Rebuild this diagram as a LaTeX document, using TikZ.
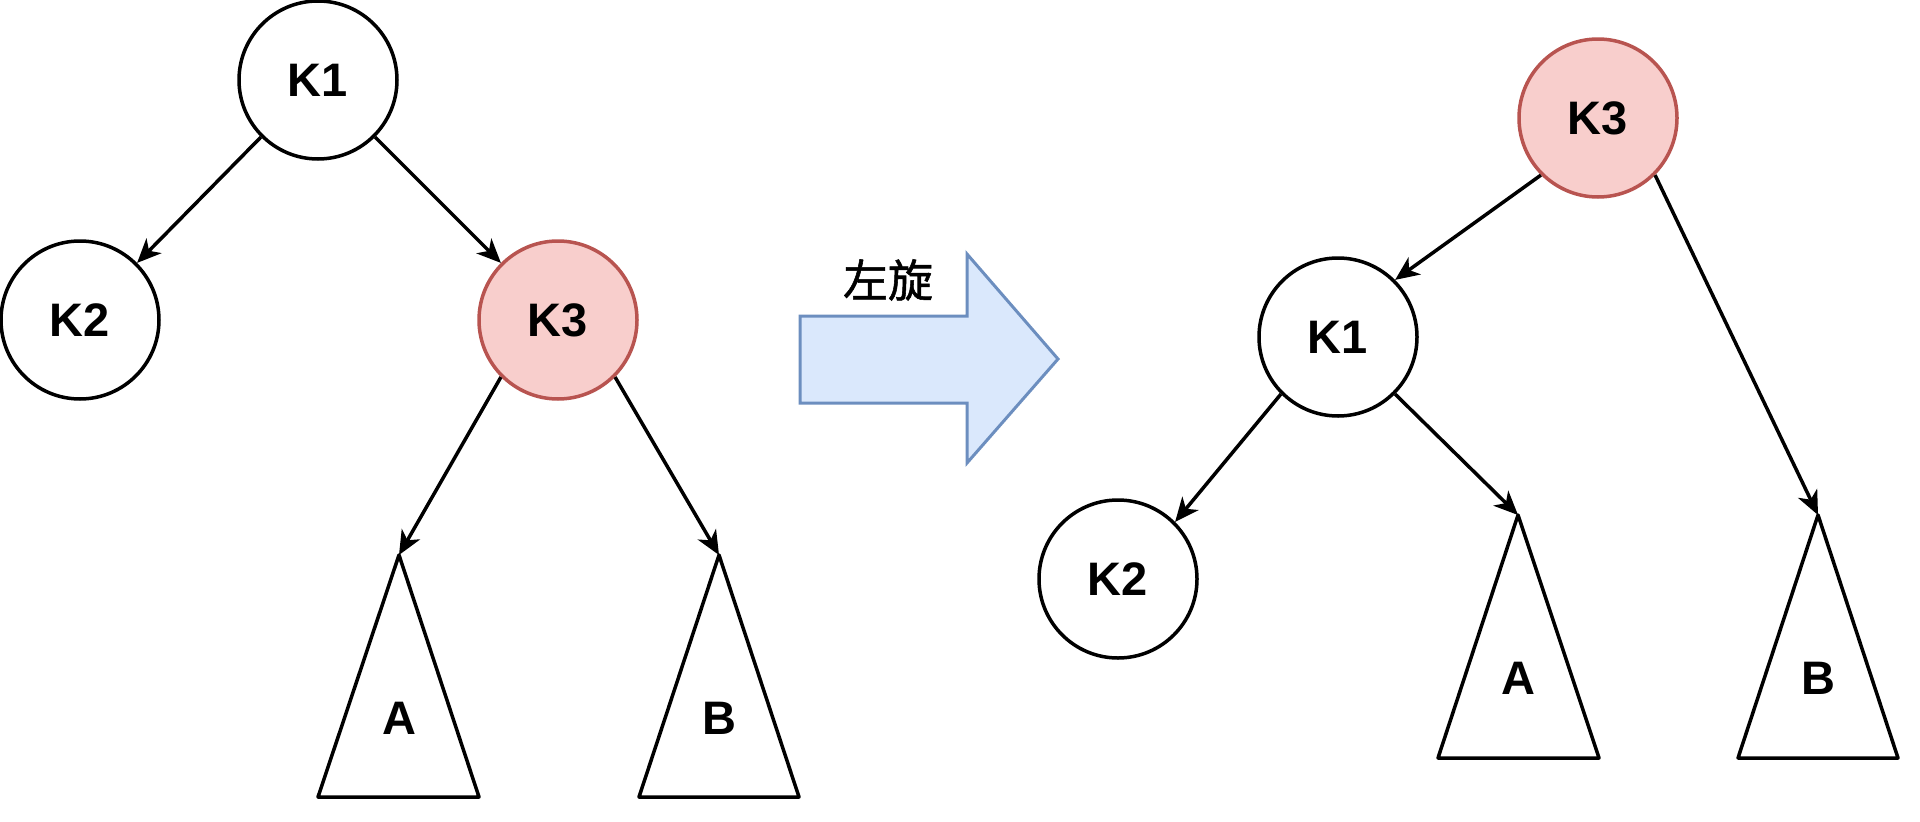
\documentclass[tikz,border=0pt]{standalone}
\usepackage{fontspec}
\setmainfont{Liberation Sans}
\newfontfamily\cjk[BoldFont={Noto Sans CJK SC},BoldFeatures={FakeBold=1.2}]{Noto Sans CJK SC}
\usetikzlibrary{arrows.meta}
\definecolor{redfill}{HTML}{F8CECC}
\definecolor{redline}{HTML}{B85450}
\definecolor{bluefill}{HTML}{DAE8FC}
\definecolor{blueline}{HTML}{6C8EBF}
\begin{document}
\begin{tikzpicture}[x=1pt,y=-1pt,
  keynode/.style={circle,draw=black,fill=white,line width=3.5pt,minimum size=158pt,inner sep=0pt,font=\fontsize{47}{50}\selectfont\bfseries},
  rednode/.style={keynode,draw=redline,fill=redfill},
  edge/.style={line width=3.5pt,-{Stealth[length=24pt,width=21pt,inset=7pt]}},
  subtree/.style={line width=3.5pt,line join=round},
  lbl/.style={font=\fontsize{47}{50}\selectfont\bfseries}]
\useasboundingbox (0,0) rectangle (1920,822);

% left tree
\node[keynode] (K1) at (318,80) {K1};
\node[keynode] (K2) at (80,320) {K2};
\node[rednode] (K3) at (558,320) {K3};
\coordinate (tA) at (399,555);
\coordinate (tB) at (719,555);
\draw[subtree] (tA) -- (318,797) -- (479,797) -- cycle;
\draw[subtree] (tB) -- (639,797) -- (799,797) -- cycle;
\node[lbl] (lA) at (399,718) {A};
\node[lbl] (lB) at (719,718) {B};
\draw[edge] (K1.225) -- (K2.45);
\draw[edge] (K1.315) -- (K3.135);
\draw[edge] (K3.225) -- (tA);
\draw[edge] (K3.315) -- (tB);

% block arrow
\draw[line width=3pt,draw=blueline,fill=bluefill,line join=miter]
  (800,316) -- (967,316) -- (967,254) -- (1058,359) -- (967,463) -- (967,403) -- (800,403) -- cycle;
\node[font=\cjk\bfseries\fontsize{45}{50}\selectfont] (rot) at (888,280) {左旋};

% right tree
\node[rednode] (R3) at (1598,118) {K3};
\node[keynode] (R1) at (1338,337) {K1};
\node[keynode] (R2) at (1118,579) {K2};
\coordinate (rtA) at (1518,515);
\coordinate (rtB) at (1818,515);
\draw[subtree] (rtA) -- (1438,758) -- (1599,758) -- cycle;
\draw[subtree] (rtB) -- (1738,758) -- (1898,758) -- cycle;
\node[lbl] (rA) at (1518,678) {A};
\node[lbl] (rB) at (1818,678) {B};
\draw[edge] (R3.225) -- (R1.45);
\draw[edge] (R3.315) -- (rtB);
\draw[edge] (R1.225) -- (R2.45);
\draw[edge] (R1.315) -- (rtA);
\end{tikzpicture}
\end{document}
